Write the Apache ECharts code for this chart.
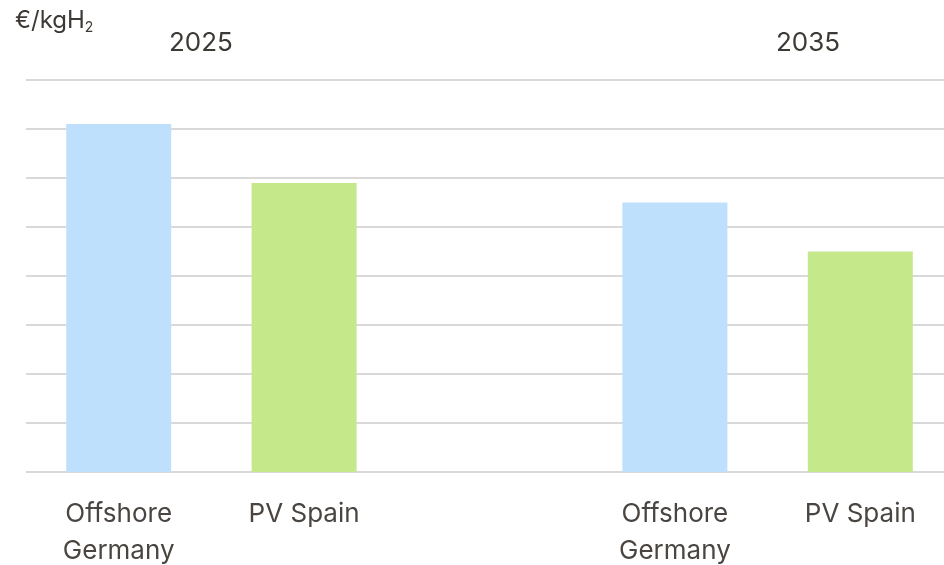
<!DOCTYPE html>
<html><head><meta charset="utf-8">
<script src="https://cdn.jsdelivr.net/npm/echarts@6/dist/echarts.min.js"></script>
<style>html,body{margin:0;padding:0;background:#fff}#c{width:944px;height:565px}</style>
</head><body><div id="c"></div>
<script>
const categories = ["Offshore\nGermany", "PV Spain", "", "Offshore\nGermany", "PV Spain"];
const offshoreGermany = [7.1, null, null, 5.5, null];
const pvSpain = [null, 5.9, null, null, 4.5];
const yearLabels = ["2025", "2035"];
const unitLabel = "€/kgH";

const chart = echarts.init(document.getElementById('c'));
const font = 'Inter, Roboto, sans-serif';
chart.setOption({
  animation: false,
  title: [
    { text: '{u|' + unitLabel + '}{s|2}', left: 10, top: 2,
      textStyle: { rich: { u: { fontFamily: font, fontSize: 24, fontWeight: 'normal', color: '#3d3935' }, s: { fontFamily: font, fontSize: 14, fontWeight: 'normal', color: '#3d3935', padding: [14, 0, 0, 0] } } } },
    { text: yearLabels[0], left: 164, top: 25, textStyle: { fontFamily: font, fontSize: 26, fontWeight: 'normal', color: '#3d3935' } },
    { text: yearLabels[1], left: 771, top: 25, textStyle: { fontFamily: font, fontSize: 26, fontWeight: 'normal', color: '#3d3935' } }
  ],
  grid: { left: 26, right: -9, top: 80, bottom: 93, outerBoundsMode: 'none', containLabel: false },
  xAxis: {
    type: 'category', data: categories,
    axisLine: { show: false }, axisTick: { show: false },
    axisLabel: { interval: 0, margin: 24, fontFamily: font, fontSize: 26, color: '#4a4541', lineHeight: 37 }
  },
  yAxis: {
    type: 'value', min: 0, max: 8, interval: 1,
    axisLabel: { show: false }, axisLine: { show: false }, axisTick: { show: false },
    splitLine: { lineStyle: { color: '#d9d9d9', width: 2 } }
  },
  series: [
    { name: 'Offshore Germany', type: 'bar', stack: 'a', barWidth: 105, data: offshoreGermany, itemStyle: { color: '#bfe0fd' } },
    { name: 'PV Spain', type: 'bar', stack: 'a', barWidth: 105, data: pvSpain, itemStyle: { color: '#c5e88b' } }
  ]
});
</script></body></html>
